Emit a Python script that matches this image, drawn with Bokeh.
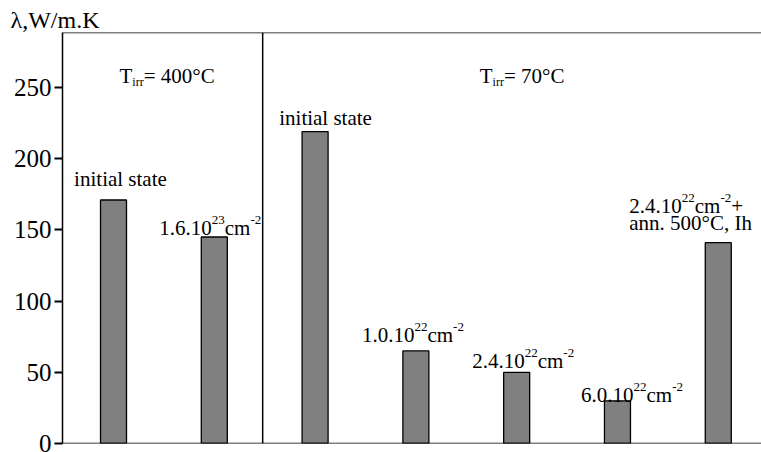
import re
from bokeh.plotting import figure
from bokeh.models import ColumnDataSource, Span, Range1d, FixedTicker
from bokeh.core.properties import value
from bokeh.embed import file_html
from bokeh.resources import INLINE

# ---------------- data ----------------
categories = [
    "initial state",
    "1.6.10^{23}cm^{-2}",
    "initial state",
    "1.0.10^{22}cm^{-2}",
    "2.4.10^{22}cm^{-2}",
    "6.0.10^{22}cm^{-2}",
    "2.4.10^{22}cm^{-2}+|ann. 500°C, Ih",
]
conductivity = [171, 145, 219, 65, 50, 30, 141]
groups = ["T_{irr}= 400°C", "T_{irr}= 70°C"]
group_sizes = [2, 5]
y_ticks = [0, 50, 100, 150, 200, 250]
y_label = "λ,W/m.K"

# ---------------- layout / style ----------------
FONT = "Liberation Serif"
SIZE_N, SIZE_SUP, SIZE_SUB = 21, 13, 12
OFF_SUP, OFF_SUB = -8, 6
# label offsets relative to bar centre / bar top (px)
label_dx = [7, -4, 10.5, -3, 6.5, 14.5, -89]
label_rise = [20.5, 9.5, 14, 16, 11, 6, 37]
label_align = ["center"] * 6 + ["left"]
LINE_H = 17
group_dx = [4.5, 10]
GROUP_DROP = 43

xs = list(range(1, len(conductivity) + 1))
x_start, x_end = 0.494, 7.429
y_end = 288.6

W = {' ': 250, '+': 564, ',': 250, '-': 333, '.': 250, '/': 278, '=': 564,
     'C': 667, 'I': 333, 'K': 722, 'T': 611, 'W': 944, 'a': 444, 'c': 444,
     'e': 444, 'h': 500, 'i': 278, 'l': 278, 'm': 778, 'n': 500, 'r': 333,
     's': 389, 't': 278, '°': 400, 'λ': 550}
for d in "0123456789":
    W[d] = 500


def parse(s):
    parts = []
    for m in re.finditer(r"\^\{([^}]*)\}|_\{([^}]*)\}|([^\^_]+)", s):
        if m.group(1) is not None:
            parts.append((m.group(1), "sup"))
        elif m.group(2) is not None:
            parts.append((m.group(2), "sub"))
        else:
            parts.append((m.group(3), "n"))
    return parts


SZ = {"n": SIZE_N, "sup": SIZE_SUP, "sub": SIZE_SUB}
OFF = {"n": 0, "sup": OFF_SUP, "sub": OFF_SUB}


def twidth(t, size):
    return sum(W.get(c, 500) for c in t) / 1000.0 * size


seg = dict(x=[], y=[], text=[], xo=[], yo=[], fs=[])


def add_rich(s, ax, ay, dx, dy, align):
    for li, line in enumerate(s.split("|")):
        parts = parse(line)
        total = sum(twidth(t, SZ[k]) for t, k in parts)
        start = dx - total / 2 if align == "center" else dx
        cum = 0.0
        for t, k in parts:
            seg["x"].append(ax)
            seg["y"].append(ay)
            seg["text"].append(t)
            seg["xo"].append(start + cum)
            seg["yo"].append(dy + li * LINE_H + OFF[k])
            seg["fs"].append(f"{SZ[k]}px")
            cum += twidth(t, SZ[k])


for i, lab in enumerate(categories):
    add_rich(lab, xs[i], conductivity[i], label_dx[i],
             -label_rise[i], label_align[i])

# group boundaries
bounds = [x_start]
acc = 0
for gs in group_sizes[:-1]:
    acc += gs
    bounds.append(xs[acc - 1] + 0.48)
bounds.append(x_end)
for gi, g in enumerate(groups):
    cx = (bounds[gi] + bounds[gi + 1]) / 2
    add_rich(g, cx, y_end, group_dx[gi], GROUP_DROP, "center")

p = figure(width=761, height=452, output_backend="svg", toolbar_location=None,
           x_range=Range1d(x_start, x_end), y_range=Range1d(0, y_end),
           min_border_left=62, min_border_right=0, min_border_top=32,
           min_border_bottom=9)
p.outline_line_color = None
p.xaxis.visible = False
p.xgrid.visible = False
p.ygrid.visible = False
p.background_fill_color = "white"
p.border_fill_color = "white"

p.title.text = y_label
p.title.align = "left"
p.title.offset = -52
p.title.standoff = 0
p.title.text_font = FONT
p.title.text_font_size = "24px"
p.title.text_font_style = "normal"
p.title.text_color = "black"

p.vbar(x=xs, top=conductivity, width=0.258, bottom=0,
       fill_color="#808080", line_color="black", line_width=1.3)

src = ColumnDataSource(seg)
p.text(x="x", y="y", text="text", x_offset="xo", y_offset="yo",
       text_font_size="fs", text_font=value(FONT), text_color="black",
       text_align="left", text_baseline="alphabetic", source=src)

for loc in [0, y_end]:
    p.add_layout(Span(location=loc, dimension="width", line_color="black",
                      line_width=1.5))
for b in bounds[1:-1]:
    p.add_layout(Span(location=b, dimension="height", line_color="black",
                      line_width=1.5))

ax = p.yaxis[0]
ax.ticker = FixedTicker(ticks=y_ticks)
ax.axis_line_width = 1.5
ax.axis_line_color = "black"
ax.major_tick_out = 8
ax.major_tick_in = 0
ax.major_tick_line_width = 2
ax.minor_tick_line_color = None
ax.major_label_standoff = 3
ax.major_label_text_font = FONT
ax.major_label_text_font_size = "25px"
ax.major_label_text_color = "black"

open("out.html", "w").write(file_html(p, INLINE))
